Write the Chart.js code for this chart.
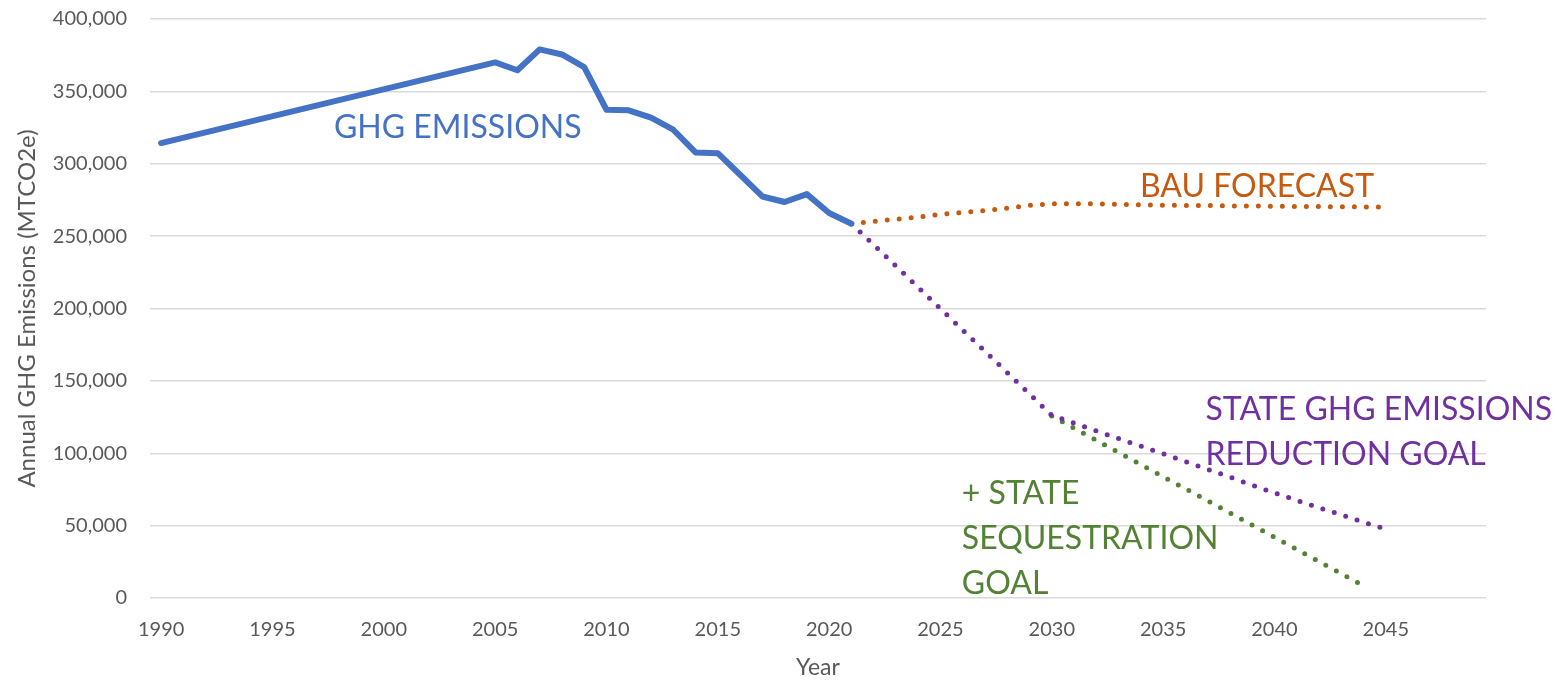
<!DOCTYPE html>
<html>
<head>
<meta charset="utf-8">
<script src="https://cdn.jsdelivr.net/npm/chart.js@4"></script>
<style>
    html, body { margin: 0; padding: 0; background: #ffffff; }
    #chart { display: block; }
</style>
</head>
<body>
<canvas id="chart" width="1555" height="681"></canvas>
<script>
// Data
const years = [
    1990, 1991, 1992, 1993, 1994, 1995, 1996, 1997, 1998, 1999,
    2000, 2001, 2002, 2003, 2004, 2005, 2006, 2007, 2008, 2009,
    2010, 2011, 2012, 2013, 2014, 2015, 2016, 2017, 2018, 2019,
    2020, 2021, 2022, 2023, 2024, 2025, 2026, 2027, 2028, 2029,
    2030, 2031, 2032, 2033, 2034, 2035, 2036, 2037, 2038, 2039,
    2040, 2041, 2042, 2043, 2044, 2045, 2046, 2047, 2048, 2049
];

const emissionYears = [1990, 2005, 2006, 2007, 2008, 2009, 2010, 2011, 2012, 2013,
    2014, 2015, 2016, 2017, 2018, 2019, 2020, 2021];
const emissionValues = [314300, 370000, 364600, 379000, 375500, 366700, 337300, 336900, 331800, 323500,
    307800, 307300, 292400, 277400, 273600, 279000, 266000, 258600];

const bauYears = [2021, 2022, 2023, 2024, 2025, 2026, 2027, 2028, 2029, 2030, 2031, 2032, 2033,
    2034, 2035, 2036, 2037, 2038, 2039, 2040, 2041, 2042, 2043, 2044, 2045];
const bauValues = [258600, 260100, 261700, 263100, 265000, 266400, 267700, 269300, 271200, 272300, 272500, 272200, 271900,
    271600, 271400, 271200, 271100, 270900, 270800, 270700, 270500, 270400, 270300, 270200, 270000];

const goalYears = [2021, 2022, 2023, 2024, 2025, 2026, 2027, 2028, 2029, 2030, 2031, 2032, 2033,
    2034, 2035, 2036, 2037, 2038, 2039, 2040, 2041, 2042, 2043, 2044, 2045];
const goalValues = [258600, 244100, 229300, 214600, 199800, 185100, 170400, 155700, 140900, 126200, 120800, 115400, 110100,
    104900, 99600, 94300, 88900, 83500, 78000, 72600, 67500, 62400, 57500, 52400, 47500];

const seqYears = [2030, 2031, 2032, 2033, 2034, 2035, 2036, 2037, 2038, 2039, 2040, 2041, 2042, 2043, 2044];
const seqValues = [125700, 117300, 109000, 100600, 92200, 83800, 75500, 67100, 58700, 50300, 42000, 33600, 25200, 16800, 8500];

const yTicks = [0, 50000, 100000, 150000, 200000, 250000, 300000, 350000, 400000];

// Colours
const BLUE = '#4472C4';
const ORANGE = '#C55A11';
const PURPLE = '#7030A0';
const GREEN = '#548235';
const AXIS_TEXT = '#595959';
const FONT = 'Lato';

// Text labels inside the plot, anchored to year / value
const seriesLabels = [
    { lines: ['GHG EMISSIONS'], color: BLUE, year: 1997.76, value: 317900 },
    { lines: ['BAU FORECAST'], color: ORANGE, year: 2033.96, value: 276900 },
    { lines: ['STATE GHG EMISSIONS', 'REDUCTION GOAL'], color: PURPLE, year: 2036.9, value: 123200 },
    { lines: ['+ STATE', 'SEQUESTRATION', 'GOAL'], color: GREEN, year: 2025.96, value: 65200 }
];

function toPoints(xs, ys) {
    return xs.map((x, i) => ({ x: String(x), y: ys[i] }));
}

const labelPlugin = {
    id: 'seriesLabels',
    afterDatasetsDraw(chart) {
        const ctx = chart.ctx;
        const xScale = chart.scales.x;
        const yScale = chart.scales.y;
        ctx.save();
        ctx.font = `32px ${FONT}`;
        ctx.textAlign = 'left';
        ctx.textBaseline = 'alphabetic';
        seriesLabels.forEach(label => {
            const px = xScale.getPixelForValue(label.year - years[0]);
            const py = yScale.getPixelForValue(label.value);
            ctx.fillStyle = label.color;
            label.lines.forEach((line, i) => {
                ctx.fillText(line, px, py + i * 45);
            });
        });
        ctx.restore();
    }
};

const chart = new Chart(document.getElementById('chart').getContext('2d'), {
    type: 'line',
    data: {
        labels: years.map(String),
        datasets: [
            {
                label: 'GHG Emissions',
                data: toPoints(emissionYears, emissionValues),
                borderColor: BLUE,
                borderWidth: 6,
                borderCapStyle: 'round',
                borderJoinStyle: 'round',
                pointRadius: 0,
                tension: 0
            },
            {
                label: 'BAU Forecast',
                data: toPoints(bauYears, bauValues),
                borderColor: ORANGE,
                borderWidth: 5,
                borderDash: [0, 12],
                borderCapStyle: 'round',
                pointRadius: 0,
                tension: 0
            },
            {
                label: 'State GHG Emissions Reduction Goal',
                data: toPoints(goalYears, goalValues),
                borderColor: PURPLE,
                borderWidth: 5,
                borderDash: [0, 12],
                borderCapStyle: 'round',
                pointRadius: 0,
                tension: 0
            },
            {
                label: '+ State Sequestration Goal',
                data: toPoints(seqYears, seqValues),
                borderColor: GREEN,
                borderWidth: 5,
                borderDash: [0, 12],
                borderCapStyle: 'round',
                pointRadius: 0,
                tension: 0
            }
        ]
    },
    options: {
        responsive: false,
        devicePixelRatio: 1,
        animation: false,
        layout: {
            padding: { top: 19, right: 69, bottom: 0, left: 0 }
        },
        plugins: {
            legend: { display: false },
            tooltip: { enabled: false }
        },
        scales: {
            x: {
                type: 'category',
                offset: true,
                grid: { display: false, drawTicks: false },
                border: { display: false },
                ticks: {
                    autoSkip: false,
                    maxRotation: 0,
                    minRotation: 0,
                    padding: 20,
                    color: AXIS_TEXT,
                    font: { family: FONT, size: 20 },
                    callback: function(value) {
                        const year = Number(this.getLabelForValue(value));
                        return year % 5 === 0 ? String(year) : '';
                    }
                },
                title: {
                    display: true,
                    text: 'Year',
                    color: AXIS_TEXT,
                    font: { family: FONT, size: 23 },
                    padding: { top: 2, bottom: 0 }
                },
                afterFit: scale => {
                    scale.height = 83;
                    scale.paddingLeft = 0;
                    scale.paddingRight = 0;
                }
            },
            y: {
                min: 0,
                max: 400000,
                afterBuildTicks: scale => {
                    scale.ticks = yTicks.map(v => ({ value: v }));
                },
                grid: { color: '#D9D9D9', lineWidth: 1.5, drawTicks: false },
                border: { display: false },
                ticks: {
                    padding: 23,
                    color: AXIS_TEXT,
                    font: { family: FONT, size: 20 },
                    callback: value => value.toLocaleString('en-US')
                },
                title: {
                    display: true,
                    text: 'Annual GHG Emissions (MTCO2e)',
                    color: AXIS_TEXT,
                    font: { family: FONT, size: 24 },
                    padding: { top: 13, bottom: 0 }
                },
                afterFit: scale => {
                    scale.width = 150;
                    scale.paddingTop = 0;
                    scale.paddingBottom = 0;
                }
            }
        }
    },
    plugins: [labelPlugin]
});
</script>
</body>
</html>
